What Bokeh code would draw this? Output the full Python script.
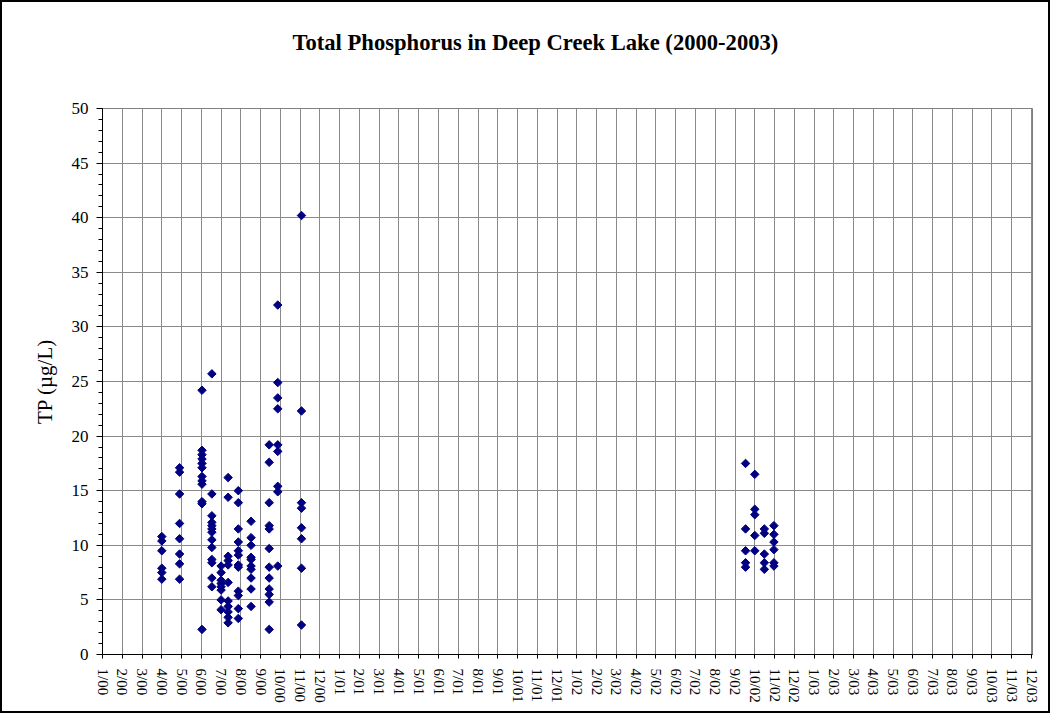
import math
import calendar
from bokeh.plotting import figure
from bokeh.models import FixedTicker, SingleIntervalTicker, Range1d, Title
from bokeh.embed import file_html
from bokeh.resources import INLINE

# ---------------- data ----------------
sample_dates = [
    "2000-04-01", "2000-04-28", "2000-06-02", "2000-06-17", "2000-07-01",
    "2000-07-12", "2000-07-28", "2000-08-17", "2000-09-14", "2000-09-27",
    "2000-11-03",
    "2002-09-17", "2002-10-01", "2002-10-16", "2002-10-31",
]
tp_by_date = [
    [10.8, 10.4, 9.5, 7.9, 7.5, 6.9],
    [17.1, 16.7, 14.7, 12.0, 10.6, 9.2, 8.3, 6.9],
    [24.2, 18.7, 18.3, 17.9, 17.5, 17.1, 16.3, 15.9, 15.6, 14.0, 13.8, 2.3],
    [25.7, 14.7, 12.7, 12.1, 11.8, 11.5, 11.2, 10.5, 9.8, 8.7, 8.4, 7.0, 6.2],
    [8.1, 7.5, 6.8, 6.5, 6.2, 5.9, 5.0, 4.1],
    [16.2, 14.4, 9.0, 8.6, 8.2, 6.6, 4.9, 4.4, 3.9, 3.4, 2.9],
    [15.0, 13.9, 11.5, 10.3, 9.5, 9.1, 8.2, 8.0, 5.8, 5.4, 4.2, 3.3],
    [12.2, 10.7, 10.0, 8.9, 8.7, 8.1, 7.8, 7.0, 6.0, 4.4],
    [19.2, 17.6, 13.9, 11.8, 11.5, 9.7, 8.0, 7.0, 6.0, 5.5, 4.8, 2.3],
    [32.0, 24.9, 23.5, 22.5, 19.2, 18.6, 15.4, 14.9, 8.1],
    [40.2, 22.3, 13.9, 13.4, 11.6, 10.6, 7.9, 2.7],
    [17.5, 11.5, 9.5, 8.4, 8.0],
    [16.5, 13.3, 12.8, 10.9, 9.5],
    [11.5, 11.1, 9.2, 8.4, 7.8],
    [11.8, 11.0, 10.3, 9.6, 8.4, 8.1],
]
month_labels = [f"{m}/{y:02d}" for y in range(0, 4) for m in range(1, 13)]
y_ticks = [0, 5, 10, 15, 20, 25, 30, 35, 40, 45, 50]
chart_title = "Total Phosphorus in Deep Creek Lake (2000-2003)"


def month_position(date_str):
    y, m, d = (int(v) for v in date_str.split("-"))
    days = calendar.monthrange(y, m)[1]
    return (y - 2000) * 12 + (m - 1) + (d - 1) / days


xs, ys = [], []
for d, vals in zip(sample_dates, tp_by_date):
    for v in vals:
        xs.append(month_position(d))
        ys.append(v)

SERIF = "Liberation Serif"

p = figure(
    width=1050, height=713, title=None,
    output_backend="svg", toolbar_location=None,
    x_range=Range1d(0, 47.05), y_range=Range1d(0, 50),
    min_border_left=100, min_border_right=20,
    min_border_top=106, min_border_bottom=61,
)
p.styles = {"border": "2px solid black"}
p.background_fill_color = "white"
p.border_fill_color = "white"
p.outline_line_color = "#808080"
p.outline_line_width = 1

# spacer between frame and title, then the title itself
spacer = Title(text=" ", text_font=SERIF, text_font_size="10px", standoff=36)
p.add_layout(spacer, "above")
title = Title(text=chart_title, align="left", offset=190, text_font=SERIF,
              text_font_style="bold", text_font_size="22.6px",
              text_color="black", standoff=10)
p.add_layout(title, "above")

# x axis
p.xaxis.ticker = FixedTicker(ticks=list(range(len(month_labels))))
p.xaxis.major_label_overrides = {i: lab for i, lab in enumerate(month_labels)}
p.xaxis.major_label_orientation = -math.pi / 2
p.xaxis.major_label_text_font = SERIF
p.xaxis.major_label_text_font_size = "15px"
p.xaxis.major_label_text_color = "black"
p.xaxis.major_label_standoff = 10
p.xaxis.major_tick_in = 0
p.xaxis.major_tick_out = 4
p.xaxis.minor_tick_line_color = None
p.xaxis.axis_line_color = "black"
p.xaxis.major_tick_line_color = "black"

# y axis
p.yaxis.ticker = SingleIntervalTicker(interval=5, num_minor_ticks=5)
p.yaxis.major_label_text_font = SERIF
p.yaxis.major_label_text_font_size = "17px"
p.yaxis.major_label_text_color = "black"
p.yaxis.major_label_standoff = 8
p.yaxis.major_tick_in = 0
p.yaxis.major_tick_out = 6
p.yaxis.minor_tick_in = 0
p.yaxis.minor_tick_out = 4
p.yaxis.axis_line_color = "black"
p.yaxis.major_tick_line_color = "black"
p.yaxis.minor_tick_line_color = "black"
p.yaxis.axis_label = "TP (µg/L)"
p.yaxis.axis_label_text_font = SERIF
p.yaxis.axis_label_text_font_size = "21px"
p.yaxis.axis_label_text_font_style = "normal"
p.yaxis.axis_label_text_color = "black"
p.yaxis.axis_label_standoff = 12

# grid
p.xgrid.ticker = FixedTicker(ticks=list(range(len(month_labels))))
p.xgrid.grid_line_color = "#8a8a8a"
p.xgrid.grid_line_width = 1
p.ygrid.ticker = FixedTicker(ticks=y_ticks)
p.ygrid.grid_line_color = "#8a8a8a"
p.ygrid.grid_line_width = 1

p.scatter(xs, ys, marker="square", angle=math.pi / 4, size=6,
          fill_color="#000080", line_color="#000080", line_width=1)

open("out.html", "w").write(file_html(p, INLINE))
